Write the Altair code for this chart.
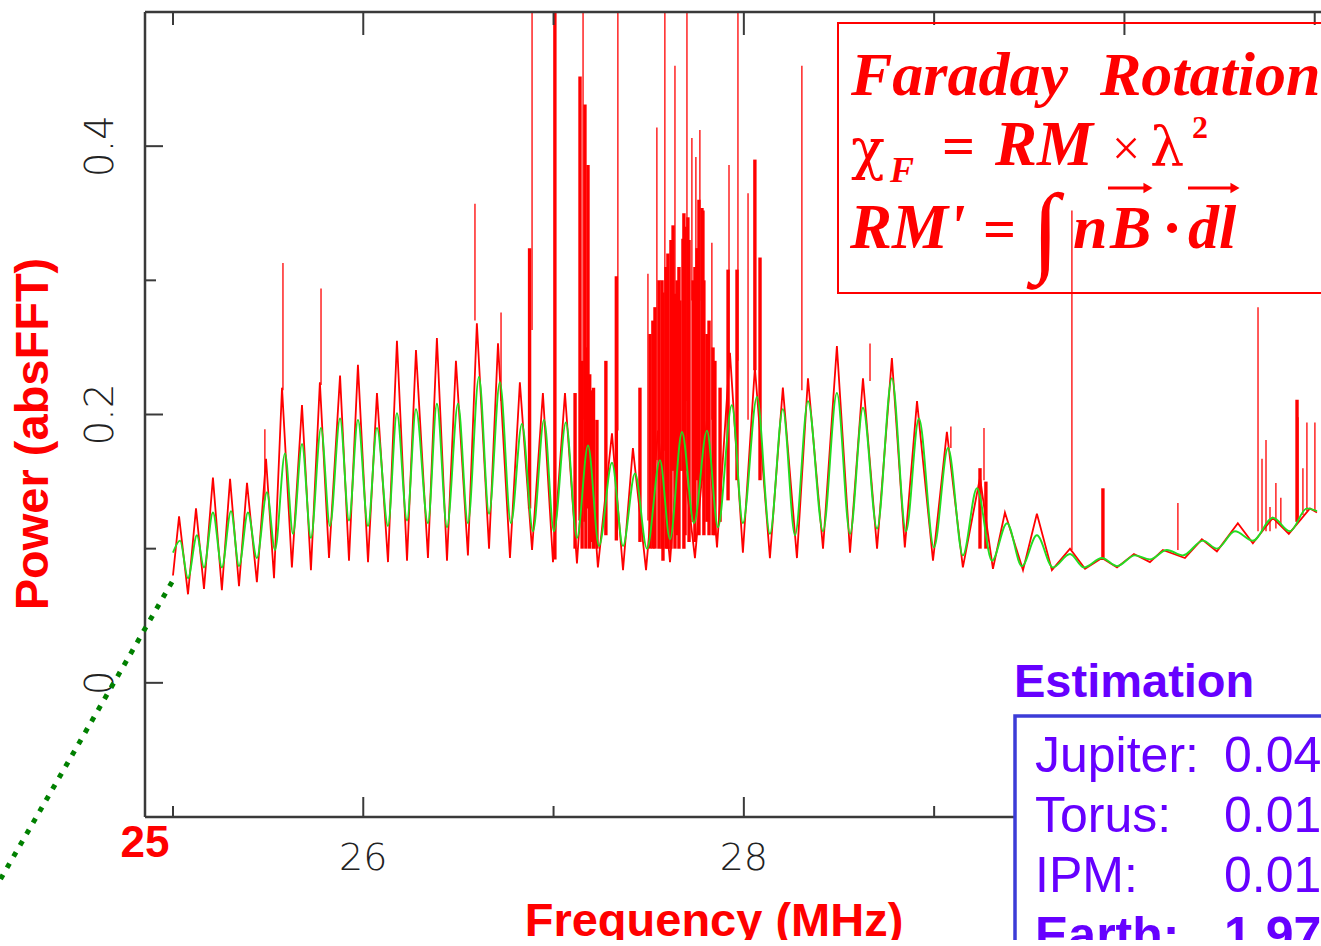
import altair as alt
import pandas as pd

# ---------------- data ----------------
# smoothed spectrum (green): (frequency MHz, power)
green = [(25.000, 0.097), (25.037, 0.106), (25.079, 0.078), (25.126, 0.110), (25.163, 0.086),
         (25.210, 0.127), (25.257, 0.086), (25.305, 0.128), (25.347, 0.087), (25.394, 0.127),
         (25.441, 0.093), (25.494, 0.142), (25.536, 0.099), (25.589, 0.171), (25.631, 0.111),
         (25.678, 0.178), (25.725, 0.108), (25.778, 0.190), (25.825, 0.117), (25.878, 0.197),
         (25.925, 0.121), (25.972, 0.196), (26.025, 0.117), (26.072, 0.190), (26.130, 0.117),
         (26.177, 0.201), (26.230, 0.121), (26.277, 0.204), (26.340, 0.119), (26.387, 0.208),
         (26.440, 0.116), (26.498, 0.208), (26.550, 0.119), (26.608, 0.228), (26.661, 0.126),
         (26.718, 0.224), (26.776, 0.119), (26.834, 0.193), (26.892, 0.113), (26.950, 0.196),
         (27.002, 0.113), (27.065, 0.194), (27.123, 0.108), (27.181, 0.177), (27.239, 0.102),
         (27.307, 0.164), (27.365, 0.102), (27.428, 0.156), (27.491, 0.100), (27.559, 0.166),
         (27.612, 0.107), (27.675, 0.187), (27.738, 0.119), (27.806, 0.188), (27.864, 0.116),
         (27.937, 0.207), (27.995, 0.119), (28.069, 0.213), (28.137, 0.111), (28.205, 0.204),
         (28.269, 0.110), (28.337, 0.210), (28.416, 0.113), (28.489, 0.216), (28.558, 0.111),
         (28.626, 0.205), (28.700, 0.115), (28.778, 0.227), (28.852, 0.113), (28.920, 0.197),
         (28.999, 0.101), (29.073, 0.175), (29.151, 0.095), (29.225, 0.145), (29.304, 0.091),
         (29.383, 0.119), (29.461, 0.087), (29.540, 0.110), (29.624, 0.086), (29.714, 0.096),
         (29.787, 0.086), (29.882, 0.093), (29.961, 0.087), (30.055, 0.095), (30.134, 0.092),
         (30.223, 0.099), (30.307, 0.095), (30.413, 0.106), (30.486, 0.100), (30.581, 0.113),
         (30.675, 0.106), (30.780, 0.123), (30.870, 0.113), (30.959, 0.130), (31.012, 0.128)]

# raw spectrum (red) envelope: (frequency MHz, power)
red = [(25.000, 0.080), (25.032, 0.124), (25.079, 0.066), (25.121, 0.130), (25.163, 0.070),
       (25.210, 0.153), (25.257, 0.069), (25.300, 0.152), (25.347, 0.072), (25.389, 0.149),
       (25.441, 0.075), (25.489, 0.167), (25.531, 0.078), (25.573, 0.220), (25.625, 0.086),
       (25.678, 0.207), (25.725, 0.084), (25.772, 0.224), (25.820, 0.093), (25.878, 0.229),
       (25.925, 0.091), (25.972, 0.237), (26.025, 0.090), (26.072, 0.216), (26.130, 0.090),
       (26.177, 0.255), (26.230, 0.091), (26.277, 0.248), (26.340, 0.093), (26.387, 0.257),
       (26.440, 0.091), (26.487, 0.240), (26.550, 0.095), (26.597, 0.268), (26.661, 0.100),
       (26.708, 0.253), (26.771, 0.093), (26.823, 0.224), (26.887, 0.099), (26.944, 0.216),
       (26.997, 0.090), (27.060, 0.216), (27.123, 0.089), (27.176, 0.203), (27.233, 0.086),
       (27.307, 0.186), (27.365, 0.084), (27.417, 0.175), (27.486, 0.084), (27.549, 0.188),
       (27.612, 0.090), (27.664, 0.190), (27.743, 0.093), (27.806, 0.196), (27.859, 0.101),
       (27.927, 0.246), (27.995, 0.097), (28.058, 0.235), (28.137, 0.093), (28.205, 0.220),
       (28.279, 0.093), (28.337, 0.227), (28.416, 0.100), (28.489, 0.251), (28.558, 0.097),
       (28.626, 0.227), (28.700, 0.100), (28.778, 0.242), (28.846, 0.101), (28.910, 0.210),
       (28.994, 0.091), (29.067, 0.187), (29.151, 0.086), (29.241, 0.153), (29.309, 0.085),
       (29.372, 0.127), (29.467, 0.084), (29.540, 0.126), (29.619, 0.084), (29.714, 0.100),
       (29.793, 0.085), (29.882, 0.093), (29.961, 0.086), (30.050, 0.096), (30.134, 0.090),
       (30.202, 0.099), (30.318, 0.093), (30.407, 0.107), (30.486, 0.098), (30.596, 0.119),
       (30.675, 0.104), (30.780, 0.123), (30.864, 0.111), (30.975, 0.130), (31.012, 0.127)]

# narrow interference spikes (red): (frequency, top power, base power)
spikes_thin = [(25.483, 0.189, 0.136), (25.578, 0.313, 0.218), (25.778, 0.294, 0.222),
               (26.587, 0.357, 0.270), (26.724, 0.276, 0.210), (26.887, 0.550, 0.263),
               (27.155, 0.550, 0.196), (27.338, 0.550, 0.188), (27.496, 0.305, 0.121),
               (27.543, 0.414, 0.166), (27.585, 0.550, 0.173), (27.638, 0.460, 0.285),
               (27.701, 0.550, 0.210), (27.727, 0.406, 0.285), (27.748, 0.392, 0.285),
               (27.769, 0.412, 0.285), (27.832, 0.328, 0.196), (27.922, 0.386, 0.240),
               (27.969, 0.550, 0.240), (28.022, 0.365, 0.196), (28.305, 0.460, 0.218),
               (28.663, 0.253, 0.225), (29.088, 0.191, 0.175), (29.262, 0.190, 0.151),
               (29.724, 0.352, 0.099), (30.281, 0.134, 0.099), (30.702, 0.280, 0.113),
               (30.723, 0.167, 0.113), (30.744, 0.181, 0.113), (30.765, 0.131, 0.113),
               (30.796, 0.149, 0.115), (30.822, 0.138, 0.117), (30.912, 0.198, 0.120),
               (30.938, 0.160, 0.125), (30.959, 0.194, 0.128), (31.001, 0.194, 0.128)]

# broad / dense interference (red): (frequency, top power, base power)
spikes_thick = [(26.874, 0.324, 0.130), (27.007, 0.550, 0.092), (27.139, 0.452, 0.121),
                (27.165, 0.431, 0.120), (27.181, 0.386, 0.130), (27.330, 0.303, 0.106),
                (27.575, 0.291, 0.091), (27.628, 0.341, 0.158), (27.664, 0.285, 0.158),
                (27.680, 0.331, 0.158), (27.706, 0.347, 0.158), (27.754, 0.324, 0.151),
                (27.780, 0.354, 0.151), (27.785, 0.352, 0.151), (27.917, 0.308, 0.136),
                (27.964, 0.308, 0.151), (28.058, 0.390, 0.233), (28.085, 0.317, 0.151),
                (29.241, 0.160, 0.100), (29.272, 0.150, 0.100), (29.887, 0.145, 0.093),
                (30.907, 0.211, 0.120), (27.113, 0.216, 0.100), (27.202, 0.218, 0.105),
                (27.228, 0.196, 0.100), (27.275, 0.240, 0.110), (27.454, 0.220, 0.105),
                (27.522, 0.270, 0.100), (27.554, 0.300, 0.100), (27.601, 0.320, 0.100),
                (27.649, 0.300, 0.110), (27.691, 0.340, 0.110), (27.733, 0.300, 0.120),
                (27.806, 0.260, 0.120), (27.848, 0.240, 0.110), (27.875, 0.220, 0.120),
                (27.507, 0.260, 0.100), (27.533, 0.280, 0.100), (27.570, 0.300, 0.100),
                (27.591, 0.310, 0.100), (27.617, 0.330, 0.100), (27.638, 0.290, 0.100),
                (27.659, 0.310, 0.100), (27.685, 0.350, 0.100), (27.712, 0.330, 0.105),
                (27.743, 0.310, 0.105), (27.764, 0.360, 0.110), (27.790, 0.300, 0.110),
                (27.817, 0.270, 0.110), (27.838, 0.250, 0.110), (27.150, 0.240, 0.100),
                (27.170, 0.250, 0.100), (27.190, 0.230, 0.100), (27.210, 0.220, 0.100)]

x_major = [26, 28, 30]
x_major_labels = ["26", "28", ""]   # the "30" label is hidden under the Estimation box
x_minor = [25, 27, 29, 31]
y_major = [0.0, 0.2, 0.4]
y_major_labels = ["0", "0.2", "0.4"]
y_minor = [0.1, 0.3]

est_names = ["Jupiter:", "Torus:", "IPM:", "Earth:"]
est_values = ["0.04", "0.01", "0.01", "1.97"]

# ---------------- chart ----------------
W, H = 1176, 805
AX = "#3a3a3a"
RED = "#ff0000"
PURPLE = "#6600ff"
LIGHT = "DejaVu Sans"
SER = "Liberation Serif"

xsc = alt.Scale(domain=[24.853, 31.033], nice=False, zero=False)
ysc = alt.Scale(domain=[-0.1, 0.5], nice=False, zero=False)


def X(field="f"):
    return alt.X(f"{field}:Q", scale=xsc, axis=None)


def Y(field="p"):
    return alt.Y(f"{field}:Q", scale=ysc, axis=None)


gdf = pd.DataFrame(green, columns=["f", "p"])
rdf = pd.DataFrame(red, columns=["f", "p"])
tdf = pd.DataFrame(spikes_thin, columns=["f", "top", "base"])
kdf = pd.DataFrame(spikes_thick, columns=["f", "top", "base"])
one = pd.DataFrame({"k": [0]})

layers = []

layers.append(alt.Chart(rdf).mark_line(color=RED, strokeWidth=1.8, clip=True).encode(x=X(), y=Y()))
layers.append(alt.Chart(kdf).mark_rule(color=RED, strokeWidth=3.4, clip=True).encode(
    x=X(), y=Y("top"), y2="base:Q"))
layers.append(alt.Chart(tdf).mark_rule(color=RED, strokeWidth=1.3, clip=True).encode(
    x=X(), y=Y("top"), y2="base:Q"))
layers.append(alt.Chart(gdf).mark_line(color="#22dd22", strokeWidth=1.9, interpolate="monotone",
                                       clip=True).encode(x=X(), y=Y()))


def rule(x1, y1, x2, y2, color=AX, width=2.5, dash=None):
    kw = dict(color=color, strokeWidth=width)
    if dash:
        kw["strokeDash"] = dash
        kw["strokeCap"] = "butt"
    return alt.Chart(one).mark_rule(**kw).encode(
        x=alt.value(x1), y=alt.value(y1), x2=alt.value(x2), y2=alt.value(y2))


def txt(x, y, s, size, color="black", font="Liberation Sans", weight="normal",
        style="normal", align="left", baseline="alphabetic", angle=None):
    kw = dict(text=s, fontSize=size, font=font, fontWeight=weight, fontStyle=style,
              align=align, baseline=baseline, color=color)
    if angle is not None:
        kw["angle"] = angle
    return alt.Chart(one).mark_text(**kw).encode(x=alt.value(x), y=alt.value(y))


# frame
layers.append(rule(0, 0, 0, H))
layers.append(rule(0, 0, W + 10, 0))
layers.append(rule(0, H, W + 10, H))

# ticks
xmaj = pd.DataFrame({"f": x_major, "lab": x_major_labels})
xmin = pd.DataFrame({"f": x_minor})
ymaj = pd.DataFrame({"v": y_major, "lab": y_major_labels})
ymin = pd.DataFrame({"v": y_minor})

layers.append(alt.Chart(xmaj).mark_rule(color=AX, strokeWidth=2).encode(
    x=X(), y=alt.value(H), y2=alt.value(H - 20)))
layers.append(alt.Chart(xmin).mark_rule(color=AX, strokeWidth=2).encode(
    x=X(), y=alt.value(H), y2=alt.value(H - 11)))
layers.append(alt.Chart(xmaj).mark_rule(color=AX, strokeWidth=2).encode(
    x=X(), y=alt.value(0), y2=alt.value(23)))
layers.append(alt.Chart(xmin).mark_rule(color=AX, strokeWidth=2).encode(
    x=X(), y=alt.value(0), y2=alt.value(13)))
layers.append(alt.Chart(ymaj).mark_rule(color=AX, strokeWidth=2).encode(
    y=Y("v"), x=alt.value(0), x2=alt.value(18)))
layers.append(alt.Chart(ymin).mark_rule(color=AX, strokeWidth=2).encode(
    y=Y("v"), x=alt.value(0), x2=alt.value(11)))

# tick labels
layers.append(alt.Chart(xmaj).mark_text(font=LIGHT, fontSize=38, fontWeight=200, color="#222222",
                                        align="center", baseline="alphabetic").encode(
    x=X(), y=alt.value(858), text="lab:N"))
layers.append(alt.Chart(ymaj).mark_text(font=LIGHT, fontSize=39, fontWeight=200, color="#222222",
                                        align="center", baseline="alphabetic", angle=270).encode(
    y=Y("v"), x=alt.value(-32), text="lab:N"))

# axis titles
layers.append(txt(0, 845, "25", 44, color=RED, weight="bold", align="center"))
layers.append(txt(569, 924, "Frequency (MHz)", 47, color=RED, weight="bold", align="center"))
layers.append(txt(-97, 422, "Power (absFFT)", 47, color=RED, weight="bold", align="center", angle=270))

# dotted leader line
layers.append(rule(27, 570, -160, 894, color="#008000", width=5, dash=[5, 8]))

# Faraday rotation box
layers.append(alt.Chart(one).mark_rect(fillOpacity=0, stroke=RED, strokeWidth=2).encode(
    x=alt.value(693), x2=alt.value(1230), y=alt.value(11), y2=alt.value(281)))
layers.append(txt(706, 83, "Faraday", 62, color=RED, font=SER, weight="bold", style="italic"))
layers.append(txt(955, 83, "Rotation", 62, color=RED, font=SER, weight="bold", style="italic"))
layers.append(txt(706, 156, "\u03c7", 56, color=RED, font="DejaVu Serif"))
layers.append(txt(745, 170, "F", 36, color=RED, font=SER, weight="bold", style="italic"))
layers.append(txt(797, 153, "=", 58, color=RED, font=SER, weight="bold"))
layers.append(txt(850, 153, "RM", 63, color=RED, font=SER, weight="bold", style="italic"))
layers.append(txt(967, 153, "\u00d7", 50, color=RED, font=SER))
layers.append(txt(1005, 153, "\u03bb", 54, color=RED, font="DejaVu Serif"))
layers.append(txt(1047, 126, "2", 32, color=RED, font=SER, weight="bold"))
layers.append(txt(705, 236, "RM'", 63, color=RED, font=SER, weight="bold", style="italic"))
layers.append(txt(838, 236, "=", 58, color=RED, font=SER, weight="bold"))
layers.append(txt(887, 251, "\u222b", 100, color=RED, font=SER))
layers.append(txt(928, 236, "n", 62, color=RED, font=SER, weight="bold", style="italic"))
layers.append(txt(965, 236, "B", 62, color=RED, font=SER, weight="bold", style="italic"))
layers.append(txt(1027, 236, "\u00b7", 62, color=RED, font=SER, weight="bold", align="center"))
layers.append(txt(1043, 236, "dl", 62, color=RED, font=SER, weight="bold", style="italic"))
layers.append(rule(963, 176, 1001, 176, color=RED, width=3))
layers.append(rule(1043, 176, 1088, 176, color=RED, width=3))
layers.append(alt.Chart(one).mark_point(shape="triangle-right", filled=True, size=110, color=RED,
                                        opacity=1).encode(x=alt.value(1003), y=alt.value(176)))
layers.append(alt.Chart(one).mark_point(shape="triangle-right", filled=True, size=110, color=RED,
                                        opacity=1).encode(x=alt.value(1090), y=alt.value(176)))

# Estimation box
layers.append(txt(869, 685, "Estimation", 47, color=PURPLE, weight="bold"))
layers.append(alt.Chart(one).mark_rect(fill="white", stroke="#3c3cd7", strokeWidth=3.5).encode(
    x=alt.value(870), x2=alt.value(1260), y=alt.value(704), y2=alt.value(1000)))
for i, (nm, vv) in enumerate(zip(est_names, est_values)):
    wt = "bold" if nm.startswith("Earth") else "normal"
    layers.append(txt(890, 760 + 60 * i, nm, 50, color=PURPLE, weight=wt))
    layers.append(txt(1079, 760 + 60 * i, vv, 50, color=PURPLE, weight=wt))

chart = alt.layer(*layers).properties(
    width=W, height=H,
    autosize=alt.AutoSizeParams(type="none"),
    padding={"left": 145, "top": 12, "right": 0, "bottom": 123},
).configure_view(stroke=None)

chart.save("out.html", embed_options={"renderer": "svg", "actions": False})
